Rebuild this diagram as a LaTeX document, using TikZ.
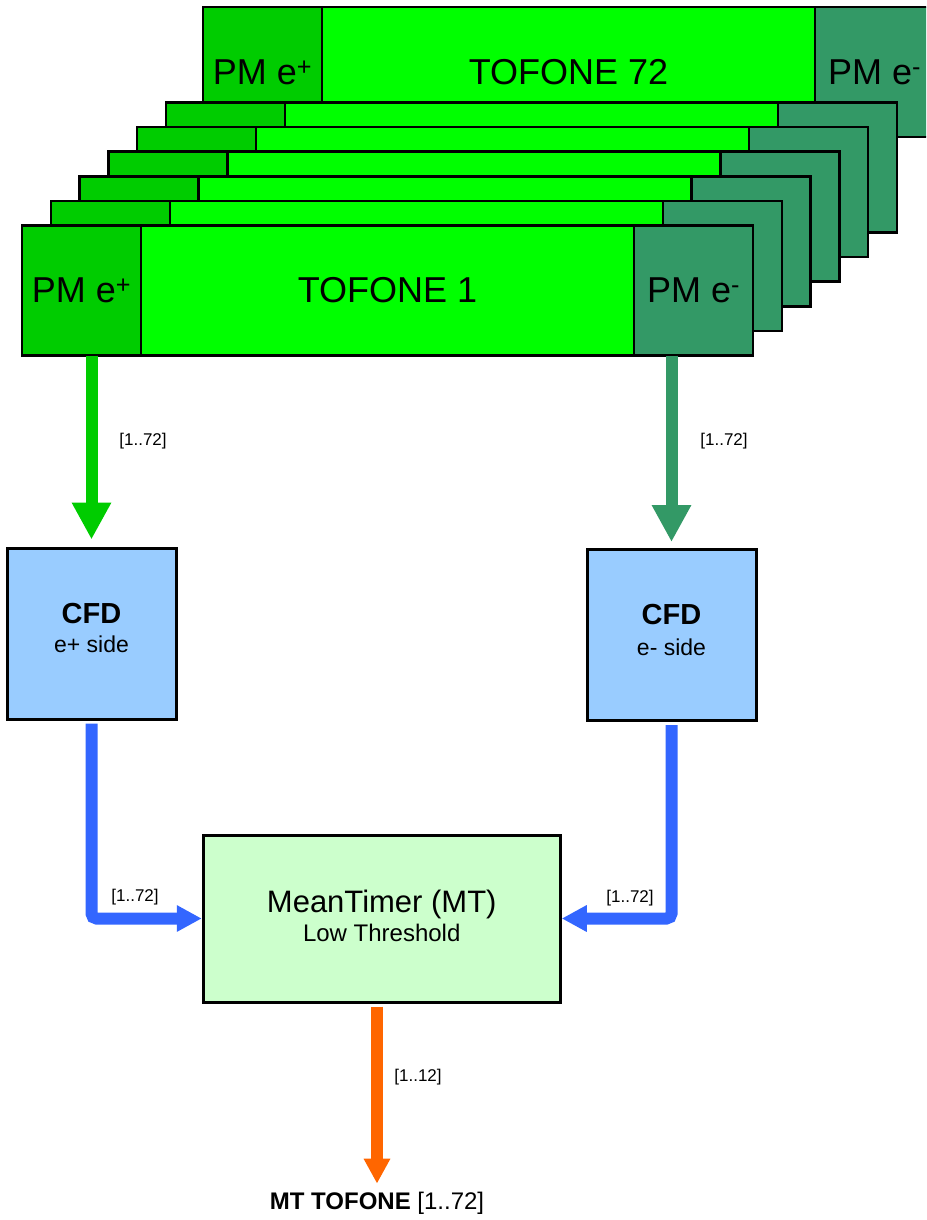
\documentclass[tikz,border=0pt]{standalone}
\usepackage{fontspec}
\setmainfont{Liberation Sans}
\usepackage{xcolor}
\usetikzlibrary{positioning, arrows.meta}

\definecolor{pmplus}{HTML}{00CC00}
\definecolor{scint}{HTML}{00FF00}
\definecolor{pmminus}{HTML}{339966}
\definecolor{cfdblue}{HTML}{99CCFF}
\definecolor{sigblue}{HTML}{3366FF}
\definecolor{mtgreen}{HTML}{CCFFCC}
\definecolor{outorange}{HTML}{FF6600}

\begin{document}
\begin{tikzpicture}[
    x=1pt, y=-1pt,
    part/.style={
        draw=black, line width=2.5pt, outer sep=0pt, inner sep=0pt,
        minimum height=130pt, font=\fontsize{36}{40}\selectfont,
    },
    pmpos/.style={part, fill=pmplus, minimum width=119pt},
    bar/.style={part, fill=scint, minimum width=493pt},
    pmneg/.style={part, fill=pmminus, minimum width=119pt},
    cfd/.style={draw=black, line width=3pt, fill=cfdblue, minimum width=169pt, minimum height=171pt},
    mtbox/.style={draw=black, line width=3pt, fill=mtgreen, minimum width=357pt, minimum height=167pt},
    head/.style={font=\bfseries\fontsize{29}{32}\selectfont, inner sep=0pt},
    sub/.style={font=\fontsize{23}{26}\selectfont, inner sep=0pt},
    lbl/.style={font=\fontsize{17}{20}\selectfont, inner sep=0pt},
    sig/.style={line width=12pt},
    bigtip/.style={-{Triangle[width=37pt, length=37pt]}},
    smalltip/.style={-{Triangle[width=25pt, length=25pt]}},
]
\useasboundingbox (0,0) rectangle (926,1220);
\clip (0,0) rectangle (926,1220);

% --- counter 72, at the back ---
\node[pmpos] (pp72) at (262.5,72) {PM e\textsuperscript{+}};
\node[bar, right=0pt of pp72] (bar72) {\raisebox{-4pt}{TOFONE 72}};
\node[pmneg, right=0pt of bar72] (pn72) {PM e\textsuperscript{-}};

% --- counters in between ---
\foreach \k in {6,...,2} {
    \node[pmpos] (pp\k) at ({81.5+28.8*(\k-1)},{290.5-24.6*(\k-1)}) {};
    \node[bar, right=0pt of pp\k] (bar\k) {};
    \node[pmneg, right=0pt of bar\k] (pn\k) {};
}

% --- counter 1, in front ---
\node[pmpos] (pp1) at (81.5,290.5) {PM e\textsuperscript{+}};
\node[bar, right=0pt of pp1] (bar1) {TOFONE 1};
\node[pmneg, right=0pt of bar1] (pn1) {PM e\textsuperscript{-}};

% --- CFD boxes ---
\node[cfd] (cfdp) at (91.5,633.5) {};
\node[head] at (cfdp.center) [yshift=20pt] {CFD};
\node[sub] at (cfdp.center) [yshift=-11pt] {e+ side};

\node[cfd] (cfdm) at (671.5,635) {};
\node[head] at (cfdm.center) [yshift=20pt] {CFD};
\node[sub] at (cfdm.center) [yshift=-12pt] {e- side};

% --- mean timer ---
\node[mtbox] (mt) at (381.75,918.5) {};
\node[head, font=\fontsize{31}{34}\selectfont] at (mt.center) [yshift=14pt] {MeanTimer (MT)};
\node[sub, font=\fontsize{24}{26}\selectfont] at (mt.center) [yshift=-14.5pt] {Low Threshold};

\node[font=\fontsize{24}{26}\selectfont, inner sep=0pt] (out) at (377,1203) {\textbf{MT TOFONE} [1..72]};

% --- signals ---
\draw[sig, draw=pmplus, bigtip] (cfdp.north |- pp1.south) -- ([yshift=7pt]cfdp.north);
\draw[sig, draw=pmminus, bigtip] (cfdm.north |- pn1.south) -- ([yshift=6pt]cfdm.north);
\node[lbl] (lp) at (143,441) {[1..72]};
\node[lbl] (lm) at (724,441) {[1..72]};

\draw[sig, draw=sigblue, smalltip, rounded corners=5pt] ([yshift=-3pt]cfdp.south) |- (mt.west);
\draw[sig, draw=sigblue, smalltip, rounded corners=5pt] ([yshift=-3pt]cfdm.south) |- (mt.east);
\node[lbl] (lmp) at (135,897) {[1..72]};
\node[lbl] (lmm) at (630,898) {[1..72]};

\draw[sig, draw=outorange, smalltip] ([yshift=-3pt]out.north |- mt.south) -- ([yshift=8pt]out.north);
\node[lbl] (lo) at (418,1077) {[1..12]};

\end{tikzpicture}
\end{document}
